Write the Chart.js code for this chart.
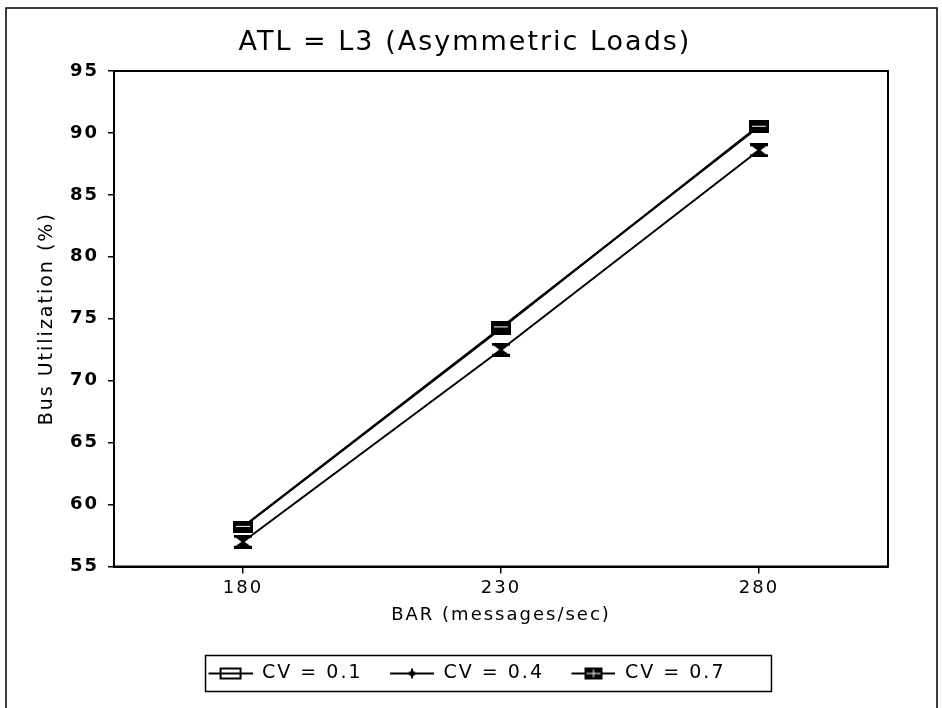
<!DOCTYPE html>
<html>
<head>
<meta charset="utf-8">
<script src="https://cdn.jsdelivr.net/npm/chart.js@4.4.1/dist/chart.umd.min.js"></script>
<style>
  html, body { margin: 0; padding: 0; background: #ffffff; }
  #wrap { position: relative; width: 942px; height: 708px; }
</style>
</head>
<body>
<div id="wrap"><canvas id="chart" width="942" height="708"></canvas></div>
<script>
// Bus arrival rate (messages/sec) on the x axis
const busRates = [180, 230, 280];
// Bus utilization (%) for each coefficient of variation
const cv01 = [58.2, 74.2, 90.6];
const cv04 = [57.0, 72.5, 88.6];
const cv07 = [58.2, 74.3, 90.5];
const seriesNames = ['CV = 0.1', 'CV = 0.4', 'CV = 0.7'];
const yTicks = [55, 60, 65, 70, 75, 80, 85, 90, 95];

const FONT = "'DejaVu Sans', sans-serif";

function makeCanvas(w, h, draw) {
  const c = document.createElement('canvas');
  c.width = w; c.height = h;
  const g = c.getContext('2d');
  draw(g, w, h);
  return c;
}

// Plot markers
const markerOpenBox = makeCanvas(20, 12, (g, w, h) => {
  g.strokeStyle = '#000'; g.lineWidth = 2;
  g.strokeRect(1, 1, w - 2, h - 2);
  g.beginPath(); g.moveTo(1, h / 2); g.lineTo(w - 1, h / 2); g.stroke();
});
const markerFilledBox = makeCanvas(20, 12, (g, w, h) => {
  g.fillStyle = '#000';
  g.fillRect(0, 0, w, h);
  g.fillStyle = '#fff';
  g.fillRect(3, h / 2 - 1, w - 6, 1);
});
const markerHourglass = makeCanvas(20, 14, (g, w, h) => {
  g.fillStyle = '#000';
  g.fillRect(1, 0, w - 2, 3);
  g.fillRect(1, h - 3, w - 2, 3);
  g.beginPath();
  g.moveTo(3, 3); g.lineTo(w - 3, 3); g.lineTo(w / 2 + 1.5, h / 2); g.lineTo(w - 3, h - 3);
  g.lineTo(3, h - 3); g.lineTo(w / 2 - 1.5, h / 2); g.closePath();
  g.fill();
});

// Legend icons: a short line with the series marker in the middle
function legendIcon(drawMarker) {
  return makeCanvas(48, 16, (g, w, h) => {
    g.strokeStyle = '#000'; g.lineWidth = 2;
    g.beginPath(); g.moveTo(4, h / 2); g.lineTo(w, h / 2); g.stroke();
    drawMarker(g, w, h);
  });
}
const legendIcons = [
  legendIcon((g, w, h) => {
    g.fillStyle = '#fff'; g.fillRect(w / 2 - 8, h / 2 - 5, 20, 10);
    g.strokeStyle = '#000'; g.lineWidth = 2;
    g.strokeRect(w / 2 - 8, h / 2 - 5, 20, 10);
    g.beginPath(); g.moveTo(w / 2 - 8, h / 2); g.lineTo(w / 2 + 12, h / 2); g.stroke();
  }),
  legendIcon((g, w, h) => {
    g.fillStyle = '#000';
    g.beginPath();
    g.moveTo(w / 2 - 4, h / 2); g.lineTo(w / 2 + 2, h / 2 - 3); g.lineTo(w / 2 + 8, h / 2); g.lineTo(w / 2 + 2, h / 2 + 3);
    g.closePath(); g.fill();
    g.fillRect(w / 2 + 1, h / 2 - 5, 2, 10);
  }),
  legendIcon((g, w, h) => {
    g.fillStyle = '#000'; g.fillRect(w / 2 - 7, h / 2 - 6, 18, 12);
    g.fillStyle = '#fff';
    g.fillRect(w / 2 - 5, h / 2 - 0.5, 14, 1);
    g.fillRect(w / 2 + 1.5, h / 2 - 4, 1, 8);
  })
];

function toPoints(values) {
  return busRates.map((x, i) => ({ x: x, y: values[i] }));
}

// Wide letter spacing for all chart text, set before layout measures it
const spacingPlugin = {
  id: 'spacing',
  beforeUpdate(chart) { chart.ctx.letterSpacing = '2px'; }
};

// Outer page frame, box around the plot area, and box around the legend
const framePlugin = {
  id: 'frames',
  beforeDraw(chart) {
    const g = chart.ctx;
    g.save();
    g.fillStyle = '#fff';
    g.fillRect(0, 0, chart.width, chart.height);
    g.strokeStyle = '#000'; g.lineWidth = 1.5;
    g.beginPath();
    g.moveTo(6, chart.height); g.lineTo(6, 8); g.lineTo(937, 8); g.lineTo(937, chart.height);
    g.stroke();
    g.restore();
  },
  afterDraw(chart) {
    const g = chart.ctx;
    const a = chart.chartArea;
    g.save();
    g.strokeStyle = '#000'; g.lineWidth = 2;
    g.strokeRect(a.left, a.top, a.right - a.left, a.bottom - a.top);
    const lg = chart.legend;
    if (lg && lg.legendHitBoxes && lg.legendHitBoxes.length) {
      const boxes = lg.legendHitBoxes;
      const x0 = Math.min(...boxes.map(b => b.left)) + 1;
      const x1 = Math.max(...boxes.map(b => b.left + b.width)) + 46;
      const cy = (Math.min(...boxes.map(b => b.top)) + Math.max(...boxes.map(b => b.top + b.height))) / 2;
      g.lineWidth = 1.5;
      g.strokeRect(x0, cy - 18, x1 - x0, 36);
    }
    g.restore();
  }
};

new Chart(document.getElementById('chart'), {
  type: 'line',
  data: {
    datasets: [
      { label: seriesNames[0], data: toPoints(cv01), borderColor: '#000', borderWidth: 2,
        pointStyle: markerOpenBox, order: 2 },
      { label: seriesNames[1], data: toPoints(cv04), borderColor: '#000', borderWidth: 2,
        pointStyle: markerHourglass, order: 1 },
      { label: seriesNames[2], data: toPoints(cv07), borderColor: '#000', borderWidth: 2,
        pointStyle: markerFilledBox, order: 0 }
    ]
  },
  options: {
    responsive: false,
    animation: false,
    layout: { padding: { left: 30, right: 42, top: 0, bottom: 15 } },
    elements: { line: { tension: 0, fill: false } },
    plugins: {
      title: {
        display: true,
        text: 'ATL = L3 (Asymmetric Loads)',
        color: '#000',
        font: { family: FONT, size: 27, weight: 'normal', lineHeight: 1.2 },
        padding: { top: 27, bottom: 11.6 }
      },
      legend: {
        display: true,
        position: 'bottom',
        labels: {
          color: '#000',
          font: { family: FONT, size: 19 },
          usePointStyle: true,
          pointStyleWidth: 48,
          padding: 23.5,
          generateLabels(chart) {
            return chart.data.datasets.map((ds, i) => ({
              text: ds.label,
              pointStyle: legendIcons[i],
              fillStyle: '#000',
              strokeStyle: '#000',
              lineWidth: 0,
              datasetIndex: i,
              fontColor: '#000',
              hidden: false
            }));
          }
        }
      },
      tooltip: { enabled: false }
    },
    scales: {
      x: {
        type: 'linear',
        min: 155,
        max: 305,
        afterBuildTicks(scale) { scale.ticks = busRates.map(v => ({ value: v })); },
        afterFit(scale) { scale.height = 74; },
        grid: { drawOnChartArea: false, drawTicks: true, tickLength: 7, color: '#000', lineWidth: 1.5 },
        border: { display: true, color: '#000', width: 2 },
        ticks: { color: '#000', font: { family: FONT, size: 18 }, padding: 4, maxRotation: 0 },
        title: {
          display: true, text: 'BAR (messages/sec)', color: '#000',
          font: { family: FONT, size: 18 }, padding: { top: 2, bottom: 14 }
        }
      },
      y: {
        type: 'linear',
        min: 55,
        max: 95,
        afterBuildTicks(scale) { scale.ticks = yTicks.map(v => ({ value: v })); },
        afterFit(scale) { scale.width = 84; },
        grid: { drawOnChartArea: false, drawTicks: true, tickLength: 6, color: '#000', lineWidth: 1.5 },
        border: { display: true, color: '#000', width: 2 },
        ticks: { color: '#000', font: { family: FONT, size: 18, weight: 'bold' }, padding: 9 },
        title: {
          display: true, text: 'Bus Utilization (%)', color: '#000',
          font: { family: FONT, size: 19 }, padding: { top: 6, bottom: 4 }
        }
      },
      // empty right-hand spacer so the plot box ends where the frame needs it
      yRight: {
        type: 'linear',
        position: 'right',
        min: 55,
        max: 95,
        afterFit(scale) { scale.width = 12; },
        grid: { display: false },
        border: { display: false },
        ticks: { display: false }
      }
    }
  },
  plugins: [spacingPlugin, framePlugin]
});
</script>
</body>
</html>
